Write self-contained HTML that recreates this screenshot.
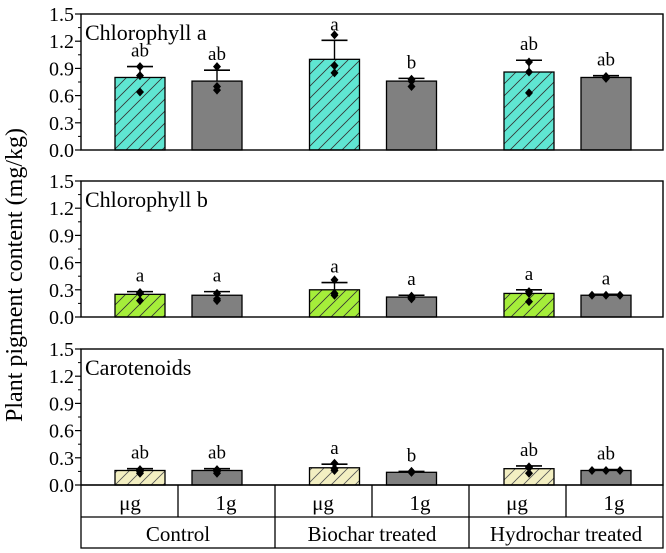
<!DOCTYPE html>
<html><head><meta charset="utf-8"><style>
body{margin:0;background:#fff}
svg{display:block}
svg text{font-family:"Liberation Serif","Times New Roman",serif}
</style></head><body>
<svg id="c" width="666" height="553" viewBox="0 0 666 553">
<defs>
<pattern id="hc" patternUnits="userSpaceOnUse" width="12" height="12">
<rect width="12" height="12" fill="#5fe6d2"/><path d="M-3,15 L15,-3 M-3,3 L3,-3 M9,15 L15,9" stroke="#333" stroke-width="0.8"/></pattern>
<pattern id="hb" patternUnits="userSpaceOnUse" width="12" height="12">
<rect width="12" height="12" fill="#a5ee3a"/><path d="M-3,15 L15,-3 M-3,3 L3,-3 M9,15 L15,9" stroke="#333" stroke-width="0.8"/></pattern>
<pattern id="hy" patternUnits="userSpaceOnUse" width="12" height="12">
<rect width="12" height="12" fill="#f3efc2"/><path d="M-3,15 L15,-3 M-3,3 L3,-3 M9,15 L15,9" stroke="#555" stroke-width="0.8"/></pattern>
</defs>
<text x="22" y="275" transform="rotate(-90 22 275)" text-anchor="middle" font-size="24">Plant pigment content (mg/kg)</text>
<g id="plots"></g>
<g stroke="#000" stroke-width="1.3" fill="none">
<rect x="81" y="485" width="582" height="63"/>
<line x1="81" y1="517" x2="663" y2="517"/>
<line x1="178" y1="485" x2="178" y2="517"/><line x1="372" y1="485" x2="372" y2="517"/><line x1="566" y1="485" x2="566" y2="517"/>
<line x1="275" y1="485" x2="275" y2="548"/><line x1="469" y1="485" x2="469" y2="548"/>
</g>
<g font-size="21" text-anchor="middle">
<text x="130" y="510">μg</text>
<text x="226" y="510">1g</text>
<text x="323" y="510">μg</text>
<text x="420" y="510">1g</text>
<text x="517" y="510">μg</text>
<text x="614" y="510">1g</text>
<text x="178" y="541">Control</text>
<text x="372" y="541">Biochar treated</text>
<text x="566" y="541">Hydrochar treated</text>
</g>
</svg>
<script>
const categories=["Control μg","Control 1g","Biochar μg","Biochar 1g","Hydrochar μg","Hydrochar 1g"];
const panelNames=["Chlorophyll a","Chlorophyll b","Carotenoids"];
const chlA=[0.80,0.76,1.00,0.76,0.86,0.80];
const chlAErr=[0.92,0.88,1.21,0.79,0.99,0.82];
const chlAPts=[[0.92,0.82,0.64],[0.92,0.70,0.66],[1.27,0.93,0.85],[0.78,0.76,0.70],[0.97,0.86,0.63],[0.81,0.79,0.80]];
const chlALetters=["ab","ab","a","b","ab","ab"];
const chlB=[0.25,0.24,0.30,0.22,0.26,0.24];
const chlBErr=[0.28,0.28,0.38,0.24,0.30,0.25];
const chlBPts=[[0.27,0.18,0.26],[0.26,0.18,0.20],[0.41,0.26,0.24],[0.23,0.21,0.20],[0.28,0.26,0.17],[0.24,0.24,0.24]];
const chlBLetters=["a","a","a","a","a","a"];
const car=[0.16,0.16,0.19,0.14,0.18,0.16];
const carErr=[0.18,0.18,0.23,0.15,0.21,0.17];
const carPts=[[0.17,0.13,0.15],[0.17,0.13,0.15],[0.24,0.16,0.18],[0.15,0.14,0.14],[0.20,0.13,0.19],[0.16,0.16,0.16]];
const carLetters=["ab","ab","a","b","ab","ab"];
const yTicks=["0.0","0.3","0.6","0.9","1.2","1.5"];

const NS="http://www.w3.org/2000/svg";
const g=document.getElementById('plots');
function mk(t,a,p){const e=document.createElementNS(NS,t);for(const k in a)e.setAttribute(k,a[k]);(p||g).appendChild(e);return e;}
const panels=[{top:14,bot:150,v:chlA,e:chlAErr,p:chlAPts,l:chlALetters,fill:"url(#hc)"},
{top:181,bot:317,v:chlB,e:chlBErr,p:chlBPts,l:chlBLetters,fill:"url(#hb)"},
{top:349,bot:485,v:car,e:carErr,p:carPts,l:carLetters,fill:"url(#hy)"}];
const L=81,R=663,barW=50;
function xPos(i){const grp=Math.floor(i/2);return L+59+grp*194.5+(i%2)*77;}
panels.forEach((P,pi)=>{
 const y=v=>P.bot-(v/1.5)*(P.bot-P.top);
 const pg=mk('g',{});
 
 
 yTicks.forEach((t,ti)=>{const v=parseFloat(t);const yy=y(v);
  mk('line',{x1:L-6,y1:yy,x2:L,y2:yy,stroke:'#000','stroke-width':1.2},pg);
  if(ti<5){const ym=y(v+0.15);mk('line',{x1:L-3,y1:ym,x2:L,y2:ym,stroke:'#000','stroke-width':1},pg);}
  const tx=mk('text',{x:L-7,y:yy+7,'text-anchor':'end','font-size':20},pg);tx.textContent=t;
  
  
 });
 P.v.forEach((v,i)=>{
  const cx=xPos(i);
  const b=mk('rect',{x:cx-barW/2,y:y(v),width:barW,height:P.bot-y(v),fill:i%2?'#808080':P.fill,stroke:'#000','stroke-width':1.3},pg);
  
  
  const ey=y(P.e[i]);
  mk('line',{x1:cx,y1:y(v),x2:cx,y2:ey,stroke:'#000','stroke-width':1.4},pg);
  mk('line',{x1:cx-13,y1:ey,x2:cx+13,y2:ey,stroke:'#000','stroke-width':1.6},pg);
  P.p[i].forEach((pv,k)=>{const px=cx+(k-1)*(P.p[i][0]===P.p[i][1]&&P.p[i][1]===P.p[i][2]?14:0);const py=y(pv);
   const d=mk('path',{d:`M${px},${py-4.5}L${px+4},${py}L${px},${py+4.5}L${px-4},${py}Z`,fill:'#000'},pg);
   
   });
  const lt=mk('text',{x:cx,y:ey-10,'text-anchor':'middle','font-size':19},pg);lt.textContent=P.l[i];
  
  
 });
 mk('rect',{x:L,y:P.top,width:R-L,height:P.bot-P.top,fill:'none',stroke:'#000','stroke-width':1.4},pg);
 const tt=mk('text',{x:L+4,y:P.top+26,'font-size':22},pg);tt.textContent=panelNames[pi];
 
 
});
</script>
</body></html>
